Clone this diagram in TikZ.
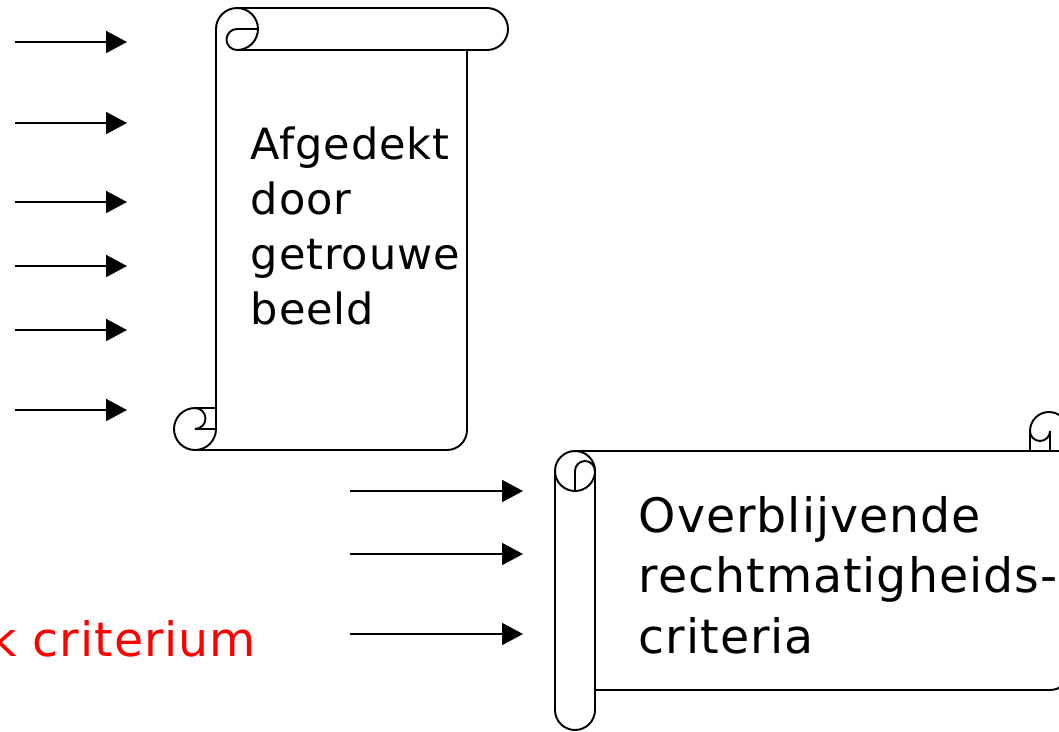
\documentclass[tikz,border=0pt]{standalone}
\usepackage{fontspec}
\setmainfont{DejaVu Sans}
\newfontfamily\scrollfont[LetterSpace=2]{DejaVu Sans}
\usetikzlibrary{arrows.meta}

\begin{document}
\begin{tikzpicture}[x=0.02cm,y=-0.02cm,line width=1.1pt,
    feed/.style={-{Triangle[length=0.42cm,width=0.44cm]}},
    scrolltext/.style={anchor=north west,inner sep=0,align=left}]
  \useasboundingbox (0,0) rectangle (1059,731);
  \clip (0,0) rectangle (1059,731);

  % upright scroll
  \draw (216,429) -- (216,29) arc[start angle=180,end angle=450,radius=21];
  \draw (258,29) -- (237,29) arc[start angle=270,end angle=90,radius=10.5];
  \draw (237,8) -- (487,8) arc[start angle=270,end angle=450,radius=21] -- (237,50);
  \draw (467,50) -- (467,430) arc[start angle=0,end angle=90,radius=20]
    -- (195,450) arc[start angle=90,end angle=270,radius=21] -- (216,408);
  \draw (216,429) arc[start angle=0,end angle=90,radius=21];
  \draw (195,408) arc[start angle=270,end angle=450,radius=10.5] -- (216,429);

  % lying scroll
  \draw (575,471) circle[radius=20];
  \draw (575,471) arc[start angle=180,end angle=360,radius=10];
  \draw (575,471) -- (575,491);
  \draw (595,471) -- (595,710) arc[start angle=0,end angle=180,radius=20] -- (555,471);
  \draw (575,451) -- (1075,451);
  \draw (1030,451) -- (1030,431) arc[start angle=180,end angle=360,radius=19];
  \draw (1030,431) arc[start angle=180,end angle=0,radius=10] -- (1050,451);
  \draw (595,690) -- (1050,690) arc[start angle=90,end angle=0,radius=20];

  \node[scrolltext,font=\scrollfont\fontsize{24.5}{31.3}\selectfont] (cover) at (250,126)
    {Afgedekt\\door\\getrouwe\\beeld};
  \node[scrolltext,font=\scrollfont\fontsize{27}{34.7}\selectfont] (rest) at (638,495)
    {Overblijvende\\rechtmatigheids-\\criteria};
  \node[anchor=base west,inner sep=0,text=red,font=\scrollfont\fontsize{27}{34.7}\selectfont] (crit) at (-11.5,656)
    {k criterium};

  % arrows into the scrolls
  \foreach \y [count=\i] in {42,123,202,266,330,410} {
    \coordinate (in\i) at (15,\y);
    \coordinate (to\i) at (127,\y);
    \draw[feed] (in\i) -- (to\i);
  }
  \foreach \y [count=\i] in {491,554,634} {
    \coordinate (rin\i) at (350,\y);
    \coordinate (rto\i) at (523,\y);
    \draw[feed] (rin\i) -- (rto\i);
  }
\end{tikzpicture}
\end{document}
